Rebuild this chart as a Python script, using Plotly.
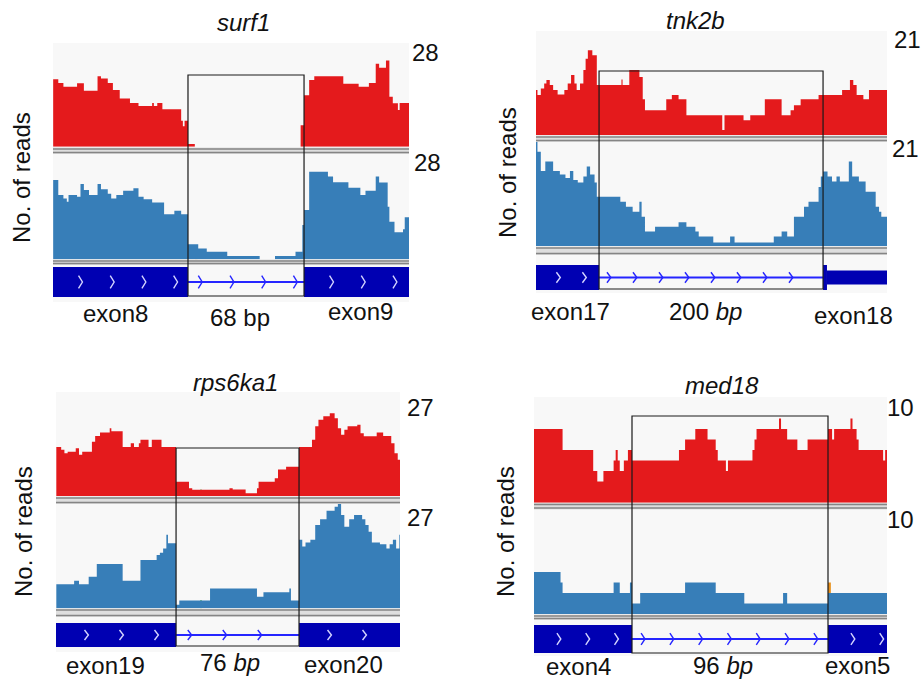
import plotly.graph_objects as go

W, H = 921, 679

# ---------------- data ----------------
genes = ["surf1", "tnk2b", "rps6ka1", "med18"]
intron_len = [68, 200, 76, 96]
intron_label = ["68 bp", "200 <i>bp</i>", "76 <i>bp</i>", "96 <i>bp</i>"]
max_reads = [28, 21, 27, 10]
left_exon = ["exon8", "exon17", "exon19", "exon4"]
right_exon = ["exon9", "exon18", "exon20", "exon5"]
window_start = [-79.1, -56.3, -74.2, -48.0]   # bp relative to intron start
window_end = [129.5, 257.1, 138.4, 124.9]
right_coding_len = [None, 3.5, None, None]     # tnk2b exon18: short coding block then UTR

# coverage step functions: value starts at position (bp, relative to intron start)
surf1_red_pos = [-79, -76, -73, -65, -61, -53, -51, -47, -44, -40, -34, -29, -21, -20, -18, -15,
                 -4, -3, -2, 0, 4, 66, 68, 71, 74, 91, 100, 106, 110, 112, 116, 118, 120, 123, 124]
surf1_red_val = [18.2, 17.2, 16.2, 17.1, 15.1, 19.0, 18.4, 17.2, 15.3, 13.0, 11.8, 11.0, 11.8, 11.0,
                 11.8, 10.1, 7.0, 5.5, 7.0, 0.7, 0, 5.8, 13.9, 18.0, 19.0, 17.0, 16.2, 17.2, 22.4,
                 21.3, 23.3, 13.5, 11.7, 9.9, 11.8]
surf1_blue_pos = [-79, -76, -73, -71, -70, -65, -63, -61, -58, -53, -51, -47, -45, -42, -38, -32,
                  -29, -26, -21, -14, -8, -4, 0, 4, 6, 11, 23, 42, 51, 63, 67, 68, 71, 82, 85, 94,
                  101, 104, 110, 112, 117, 118, 121, 126, 127]
surf1_blue_val = [21.1, 17.1, 16.2, 15.3, 17.1, 16.6, 20.0, 18.4, 17.1, 20.0, 18.6, 17.4, 16.2, 17.1,
                  18.2, 18.9, 16.6, 16.0, 15.1, 12.0, 12.9, 12.0, 4.0, 4.0, 2.9, 2.0, 0.9, 0, 0.9,
                  2.0, 9.1, 13.1, 23.3, 22.0, 20.5, 19.0, 17.1, 18.2, 22.0, 20.4, 14.0, 10.0, 7.2,
                  8.0, 11.2]

tnk2b_red_pos = [-57, -55, -52, -49, -47, -44, -41, -37, -31, -28, -25, -22, -20, -17, -14, -12, -10,
                 -6, -2, 20, 21, 27, 36, 39, 41, 60, 65, 71, 78, 110, 112, 129, 135, 148, 163, 171,
                 174, 180, 196, 217, 224, 227, 230, 236, 241]
tnk2b_red_val = [9.1, 8.1, 9.4, 10.4, 11.1, 10.1, 9.1, 8.2, 9.1, 10.4, 12.1, 10.4, 9.1, 10.4, 13.1,
                 15.4, 17.1, 16.1, 10.1, 11.2, 10.1, 13.1, 11.7, 7.2, 5.0, 7.2, 8.1, 7.2, 4.0, 1.0,
                 4.0, 3.0, 4.0, 7.2, 4.0, 5.0, 6.0, 7.2, 8.1, 9.1, 11.1, 10.1, 8.1, 7.2, 9.1]
tnk2b_blue_pos = [-57, -55, -52, -48, -41, -35, -30, -26, -23, -19, -14, -11, -8, -4, -2, 19, 24, 30,
                  36, 38, 41, 50, 71, 78, 86, 89, 102, 117, 121, 156, 163, 168, 174, 183, 187, 196,
                  198, 200, 204, 208, 212, 215, 223, 226, 232, 238, 247, 250, 252]
tnk2b_blue_val = [21.0, 19.0, 15.1, 17.0, 15.1, 14.4, 13.7, 15.1, 13.3, 12.8, 14.0, 16.0, 14.4, 12.8,
                  9.9, 8.9, 7.9, 6.9, 8.9, 5.9, 2.9, 3.9, 4.8, 3.9, 2.9, 1.9, 0.7, 1.9, 0.7, 1.9,
                  2.9, 1.9, 5.9, 7.9, 8.9, 11.9, 14.0, 15.0, 14.0, 13.0, 14.0, 13.0, 17.0, 14.0,
                  13.0, 10.9, 7.9, 6.9, 5.9]

rps6ka1_red_pos = [-74, -71, -69, -67, -62, -60, -58, -52, -50, -47, -41, -40, -33, -28, -26, -23,
                   -22, -17, -15, -9, 0, 8, 10, 33, 35, 43, 50, 51, 61, 63, 68, 76, 84, 86, 88, 91,
                   95, 98, 100, 102, 104, 106, 112, 114, 116, 124, 128, 133, 135, 137]
rps6ka1_red_val = [12.7, 12.0, 11.1, 11.5, 12.4, 10.7, 11.5, 14.1, 15.6, 16.5, 17.6, 16.8, 12.7, 13.7,
                   12.7, 13.7, 14.6, 12.7, 14.6, 12.7, 3.7, 2.0, 1.6, 2.0, 1.7, 0.7, 2.0, 3.7, 4.6,
                   6.9, 7.6, 12.7, 14.6, 18.1, 19.8, 20.7, 21.5, 20.2, 17.6, 15.9, 17.2, 18.1, 18.5,
                   16.3, 15.5, 16.5, 15.6, 13.7, 11.1, 9.4]
rps6ka1_blue_pos = [-74, -63, -60, -54, -49, -33, -22, -12, -10, -8, -6, -5, 0, 2, 21, 50, 54, 70, 71,
                    76, 78, 80, 83, 86, 89, 93, 98, 100, 102, 104, 107, 110, 115, 117, 119, 121, 126,
                    130, 132, 134, 136, 138]
rps6ka1_blue_val = [6.2, 7.1, 6.2, 8.1, 11.4, 7.1, 12.4, 13.7, 14.3, 15.4, 18.9, 16.7, 0.9, 2.0, 5.1,
                    3.0, 4.1, 5.1, 2.0, 17.6, 15.9, 16.9, 17.6, 21.4, 22.9, 25.1, 26.1, 26.8, 24.0,
                    21.0, 22.9, 24.0, 22.9, 21.4, 19.7, 16.9, 16.5, 15.4, 16.5, 17.6, 15.4, 18.9]

med18_red_pos = [-48, -34, -19, -17, -14, -9, -8, -7, -6, -4, -2, 0, 23, 26, 31, 37, 41, 42, 46, 47,
                 59, 60, 61, 72, 73, 76, 81, 86, 96, 98, 99, 107, 108, 110, 111, 123, 124]
med18_red_val = [7, 5, 3, 2, 3, 4, 5, 4, 3, 4, 5, 4, 5, 6, 7, 6, 5, 4, 3, 4, 5, 6, 7, 8, 7, 6, 5, 6,
                 7, 6, 7, 8, 7, 6, 5, 4, 5]
med18_blue_pos = [-48, -35, -34, -9, -6, -1, 0, 4, 26, 41, 55, 74, 76, 96]
med18_blue_val = [4, 3, 2, 3, 2, 3, 1, 2, 3, 2, 1, 2, 1, 2]

coverage = [
    (surf1_red_pos, surf1_red_val, surf1_blue_pos, surf1_blue_val),
    (tnk2b_red_pos, tnk2b_red_val, tnk2b_blue_pos, tnk2b_blue_val),
    (rps6ka1_red_pos, rps6ka1_red_val, rps6ka1_blue_pos, rps6ka1_blue_val),
    (med18_red_pos, med18_red_val, med18_blue_pos, med18_blue_val),
]

# mismatched-base bars: panel, track (0 red / 1 blue), start, end, base, top, colour
mm_panel = [0, 0, 2, 2, 3, 3]
mm_track = [1, 1, 0, 1, 1, 1]
mm_start = [4.1, 4.1, 14.8, 14.8, 96.0, 96.0]
mm_end = [5.5, 5.5, 15.5, 15.5, 97.4, 97.4]
mm_base = [0.0, 0.6, 0.0, 0.0, 0.0, 2.0]
mm_top = [0.6, 3.8, 1.6, 2.0, 2.0, 3.0]
mm_color = ["#e8901a", "#e41a1c", "#1a9a1a", "#1a9a1a", "#1010ff", "#e8901a"]

# ---------------- layout (pixels) ----------------
P = [
    dict(x0=53, x1=409, red=(43, 146.7), blue=(154, 259.3), gene=(267, 297), bg=(43, 302),
         sep=[(147.5, 154), (259.5, 265)], box_y=(75, 296), title=(243, 23), ylab=(22, 178),
         max_lab=[(425, 53), (427, 162)], lab=[(115, 313), (240, 317), (360, 312)], step=31.7),
    dict(x0=536, x1=887, red=(31, 135), blue=(141.7, 246), gene=(265, 290), bg=(31, 293),
         sep=[(135.5, 142), (246.5, 255)], box_y=(71, 289), title=(695, 20), ylab=(507, 173),
         max_lab=[(907, 39), (905, 148)], lab=[(570, 312), (705, 312), (853, 315)], step=26),
    dict(x0=56, x1=400, red=(392, 496), blue=(503.3, 608.3), gene=(623, 647), bg=(392, 652),
         sep=[(496.5, 504), (608.5, 617)], box_y=(448, 646), title=(235, 382), ylab=(23, 532),
         max_lab=[(420, 407), (420, 517)], lab=[(105, 665), (230, 662), (343, 664)], step=35),
    dict(x0=534, x1=887, red=(397.3, 502.7), blue=(509, 614), gene=(625, 653), bg=(397, 656),
         sep=[(503, 509.5), (614.5, 620)], box_y=(416, 653), title=(722, 385), ylab=(505, 532),
         max_lab=[(900, 407), (900, 519)], lab=[(578, 666), (723, 665), (857, 665)], step=28.8),
]

RED = "#e41a1c"
BLUE = "#377eb8"
EXON = "#0000b2"
INTRON = "#2525ff"
FONT = "Liberation Sans, Arial, sans-serif"


def X(px):
    return px / W


def Y(py):
    return 1 - py / H


fig = go.Figure()
shapes = []
annotations = []
layout_axes = {}

for i, p in enumerate(P):
    xa = "x" if i == 0 else f"x{i + 1}"
    xname = "xaxis" if i == 0 else f"xaxis{i + 1}"
    yid = [3 * i + 1, 3 * i + 2, 3 * i + 3]
    ya = ["y" if k == 1 else f"y{k}" for k in yid]
    ynames = ["yaxis" if k == 1 else f"yaxis{k}" for k in yid]
    ws, we, L = window_start[i], window_end[i], intron_len[i]
    scale = (p["x1"] - p["x0"]) / (we - ws)  # px per bp

    layout_axes[xname] = dict(domain=[X(p["x0"]), X(p["x1"])], range=[ws, we], visible=False,
                              anchor=ya[2], fixedrange=True)
    for name, (top, bot), rng in zip(ynames, [p["red"], p["blue"], p["gene"]],
                                      [[0, max_reads[i]], [0, max_reads[i]], [-1, 1]]):
        layout_axes[name] = dict(domain=[Y(bot), Y(top)], range=rng, visible=False, anchor=xa,
                                 fixedrange=True)

    # panel background
    shapes.append(dict(type="rect", xref="paper", yref="paper", x0=X(p["x0"]), x1=X(p["x1"]),
                       y0=Y(p["bg"][1]), y1=Y(p["bg"][0]), fillcolor="#f8f8f8",
                       line=dict(width=0), layer="below"))
    # separators
    for (t, b) in p["sep"]:
        shapes.append(dict(type="rect", xref="paper", yref="paper", x0=X(p["x0"]), x1=X(p["x1"]),
                           y0=Y(b), y1=Y(t), fillcolor="#dedede", line=dict(width=0), layer="below"))
        for yy in (t + 1.5, b - 1.5):
            shapes.append(dict(type="line", xref="paper", yref="paper", x0=X(p["x0"]), x1=X(p["x1"]),
                               y0=Y(yy), y1=Y(yy), line=dict(color="#858585", width=1.5)))

    # coverage tracks
    rp, rv, bp, bv = coverage[i]
    for pos, val, col, yax in ((rp, rv, RED, ya[0]), (bp, bv, BLUE, ya[1])):
        fig.add_trace(go.Scatter(x=list(pos) + [we], y=list(val) + [val[-1]], mode="lines",
                                 line=dict(width=0, shape="hv", color=col), fill="tozeroy",
                                 fillcolor=col, xaxis=xa, yaxis=yax, hoverinfo="skip",
                                 showlegend=False))

    # mismatch bars
    for k in range(len(mm_panel)):
        if mm_panel[k] != i:
            continue
        fig.add_trace(go.Bar(x=[(mm_start[k] + mm_end[k]) / 2], y=[mm_top[k] - mm_base[k]],
                             base=[mm_base[k]], width=[mm_end[k] - mm_start[k]],
                             marker=dict(color=mm_color[k], line=dict(width=0)),
                             xaxis=xa, yaxis=ya[mm_track[k]], hoverinfo="skip", showlegend=False))

    # gene model
    g = ya[2]
    shapes.append(dict(type="line", xref=xa, yref=g, x0=0, x1=L, y0=0, y1=0, layer="below",
                       line=dict(color=INTRON, width=2)))
    shapes.append(dict(type="rect", xref=xa, yref=g, x0=ws, x1=0, y0=-1, y1=1, fillcolor=EXON,
                       line=dict(width=0), layer="below"))
    if right_coding_len[i] is None:
        shapes.append(dict(type="rect", xref=xa, yref=g, x0=L, x1=we, y0=-1, y1=1, fillcolor=EXON,
                           line=dict(width=0), layer="below"))
        right_chev_end = we
    else:
        cend = L + right_coding_len[i]
        shapes.append(dict(type="rect", xref=xa, yref=g, x0=L, x1=cend, y0=-1, y1=1,
                           fillcolor=EXON, line=dict(width=0), layer="below"))
        shapes.append(dict(type="rect", xref=xa, yref=g, x0=cend, x1=we, y0=-0.56, y1=0.56,
                           fillcolor=EXON, line=dict(width=0), layer="below"))
        right_chev_end = None

    def chev(s, e, off, margin):
        out = []
        q = s + off * p["step"] / scale
        while q < e - margin / scale:
            out.append(q)
            q += p["step"] / scale
        return out

    hw = 3.0 / scale
    for pts, col in ((chev(ws, 0, 0.9, 2) + (chev(L, right_chev_end, 0.9, 2) if right_chev_end else []),
                      "#d4d4ff"),
                     (chev(0, L, 0.42, 6), INTRON)):
        xs, ys = [], []
        for q in pts:
            xs += [q - hw, q + hw * 0.3, q - hw, None]
            ys += [0.42, 0, -0.42, None]
        fig.add_trace(go.Scatter(x=xs, y=ys, mode="lines", line=dict(color=col, width=1.4),
                                 xaxis=xa, yaxis=g, hoverinfo="skip", showlegend=False))

    # intron box
    shapes.append(dict(type="rect", xref=xa, yref="paper", x0=0, x1=L, y0=Y(p["box_y"][1]),
                       y1=Y(p["box_y"][0]), line=dict(color="#1a1a1a", width=1.2),
                       fillcolor="rgba(0,0,0,0)"))

    # texts
    def ann(text, xy, angle=0, italic=False):
        annotations.append(dict(text=f"<i>{text}</i>" if italic else text, x=X(xy[0]), y=Y(xy[1]),
                                xref="paper", yref="paper", showarrow=False, textangle=angle,
                                xanchor="center", yanchor="middle", borderpad=0,
                                font=dict(family=FONT, size=24, color="#111111")))

    ann(genes[i], p["title"], italic=True)
    ann("No. of reads", p["ylab"], angle=-90)
    ann(str(max_reads[i]), p["max_lab"][0])
    ann(str(max_reads[i]), p["max_lab"][1])
    ann(left_exon[i], p["lab"][0])
    ann(intron_label[i], p["lab"][1])
    ann(right_exon[i], p["lab"][2])

fig.update_layout(width=W, height=H, margin=dict(l=0, r=0, t=0, b=0), paper_bgcolor="white",
                  plot_bgcolor="rgba(0,0,0,0)", showlegend=False, barmode="overlay",
                  shapes=shapes, annotations=annotations, **layout_axes)

fig.write_html("out.html", config={"displayModeBar": False},
               post_script="document.body.style.margin='0';document.body.style.overflow='hidden';")
